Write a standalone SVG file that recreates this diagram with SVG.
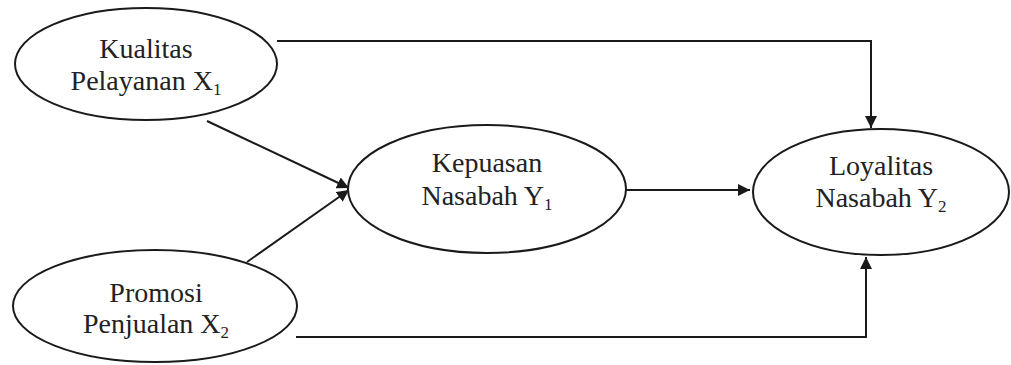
<svg xmlns="http://www.w3.org/2000/svg" width="1011" height="365" viewBox="0 0 1011 365">
<style>
.node ellipse{fill:#fff;stroke:#1a1a1a;stroke-width:2}
.node text{font-family:"Liberation Serif","Times New Roman",serif;font-size:28px;fill:#222;text-anchor:middle}
.sub{font-size:17px}
.conn path{fill:none;stroke:#1a1a1a;stroke-width:2}
</style>
<defs>
<marker id="arr" viewBox="0 0 10 10" refX="10" refY="5" markerWidth="6" markerHeight="6" orient="auto" markerUnits="strokeWidth">
<path d="M0,0 L10,5 L0,10 z" fill="#1a1a1a"/>
</marker>
</defs>
<rect width="1011" height="365" fill="#fff"/>
<g class="conn">
<path d="M277,41 H871 V128" marker-end="url(#arr)"/>
<path d="M207,121 L349,188" marker-end="url(#arr)"/>
<path d="M247,262 L349,190" marker-end="url(#arr)"/>
<path d="M626,190 H750" marker-end="url(#arr)"/>
<path d="M296,337 H866 V257" marker-end="url(#arr)"/>
</g>
<g class="node" id="x1">
<ellipse cx="146" cy="64" rx="131" ry="56"/>
<text x="146" y="58">Kualitas</text>
<text x="146" y="90">Pelayanan X<tspan class="sub" dy="5">1</tspan></text>
</g>
<g class="node" id="x2">
<ellipse cx="155" cy="306" rx="142" ry="56"/>
<text x="156" y="302">Promosi</text>
<text x="156" y="333">Penjualan X<tspan class="sub" dy="5">2</tspan></text>
</g>
<g class="node" id="y1">
<ellipse cx="487" cy="189" rx="139" ry="64"/>
<text x="487" y="172">Kepuasan</text>
<text x="487" y="205">Nasabah Y<tspan class="sub" dy="5">1</tspan></text>
</g>
<g class="node" id="y2">
<ellipse cx="881" cy="192" rx="128" ry="63"/>
<text x="881" y="175">Loyalitas</text>
<text x="881" y="207">Nasabah Y<tspan class="sub" dy="5">2</tspan></text>
</g>
</svg>
